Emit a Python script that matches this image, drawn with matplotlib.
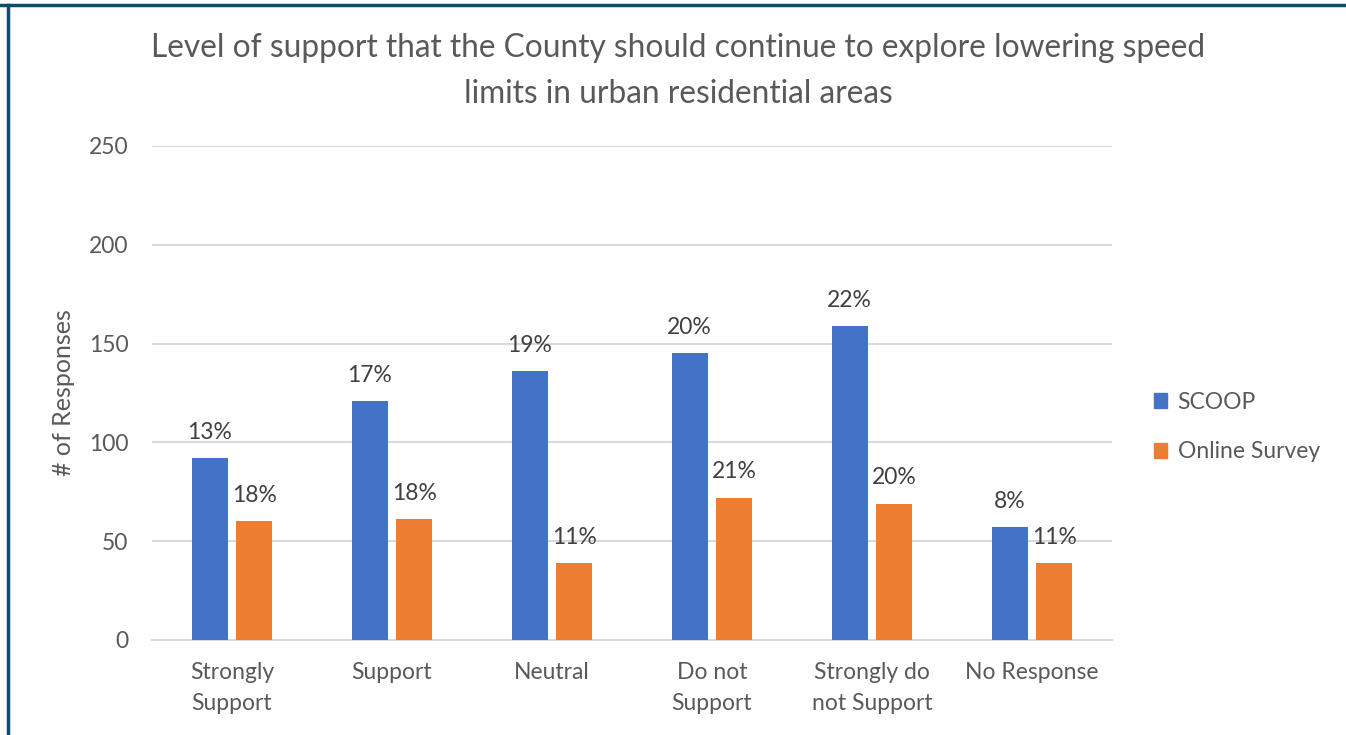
import matplotlib
matplotlib.use("Agg")
import matplotlib.pyplot as plt
from matplotlib.patches import Patch
from matplotlib.lines import Line2D
import numpy as np

categories = ["Strongly\nSupport", "Support", "Neutral", "Do not\nSupport",
              "Strongly do\nnot Support", "No Response"]
scoop = [92, 121, 136, 145, 159, 57]
online = [60, 61, 39, 72, 69, 39]
scoop_pct = ["13%", "17%", "19%", "20%", "22%", "8%"]
online_pct = ["18%", "18%", "11%", "21%", "20%", "11%"]
yticks = [0, 50, 100, 150, 200, 250]

BLUE = "#4472C4"
ORANGE = "#ED7D31"
GRAY = "#595959"
DARK = "#404040"
GRID = "#D9D9D9"
FONT = "Lato"

plt.rcParams['font.family'] = [FONT, 'DejaVu Sans']

fig = plt.figure(figsize=(13.46, 7.35), dpi=100)
ax = fig.add_axes([152/1346, 1-640/735, 960/1346, 494/735])

x = np.arange(len(categories))
w = 0.225
off = 0.14
b1 = ax.bar(x - off, scoop, w, color=BLUE, label="SCOOP", zorder=3)
b2 = ax.bar(x + off, online, w, color=ORANGE, label="Online Survey", zorder=3)

ax.bar_label(b1, labels=scoop_pct, padding=11, fontsize=16.5, color=DARK)
ax.bar_label(b2, labels=online_pct, padding=11, fontsize=16.5, color=DARK)

ax.set_xlim(-0.5, len(categories) - 0.5)
ax.set_ylim(0, 250)
ax.set_yticks(yticks)
ax.set_yticklabels([str(t) for t in yticks], fontsize=16.5, color=GRAY)
ax.set_xticks(x)
ax.set_xticklabels(categories, fontsize=16.5, color=GRAY, linespacing=1.6)
ax.tick_params(axis='both', length=0)
ax.tick_params(axis='y', pad=17)
ax.tick_params(axis='x', pad=16)
ax.grid(axis='y', color=GRID, linewidth=1.5, zorder=0)
for s in ["top", "right", "left"]:
    ax.spines[s].set_visible(False)
ax.spines["bottom"].set_color(GRID)
ax.spines["bottom"].set_linewidth(1.5)

ax.set_ylabel("# of Responses", fontsize=18, color=GRAY, labelpad=10)

fig.text(678/1346, 1-71/735,
         "Level of support that the County should continue to explore lowering speed\nlimits in urban residential areas",
         ha="center", va="center", fontsize=22.8, color=GRAY, linespacing=1.65)

handles = [Patch(color=BLUE, label="SCOOP"), Patch(color=ORANGE, label="Online Survey")]
fig.legend(handles=handles, loc="center left", bbox_to_anchor=(1133/1346, 1-427/735),
           frameon=False, fontsize=16.5, labelcolor=GRAY, handlelength=0.6,
           handleheight=0.6, handletextpad=0.45, labelspacing=1.25)

# frame lines (top and left)
fig.add_artist(Line2D([0, 1], [1-5/735, 1-5/735], transform=fig.transFigure,
                      color="#0F4C6B", linewidth=2.5))
fig.add_artist(Line2D([8/1346, 8/1346], [0, 1-5/735], transform=fig.transFigure,
                      color="#0F4C6B", linewidth=2.5))

fig.savefig("out.png", dpi=100, facecolor="white")
